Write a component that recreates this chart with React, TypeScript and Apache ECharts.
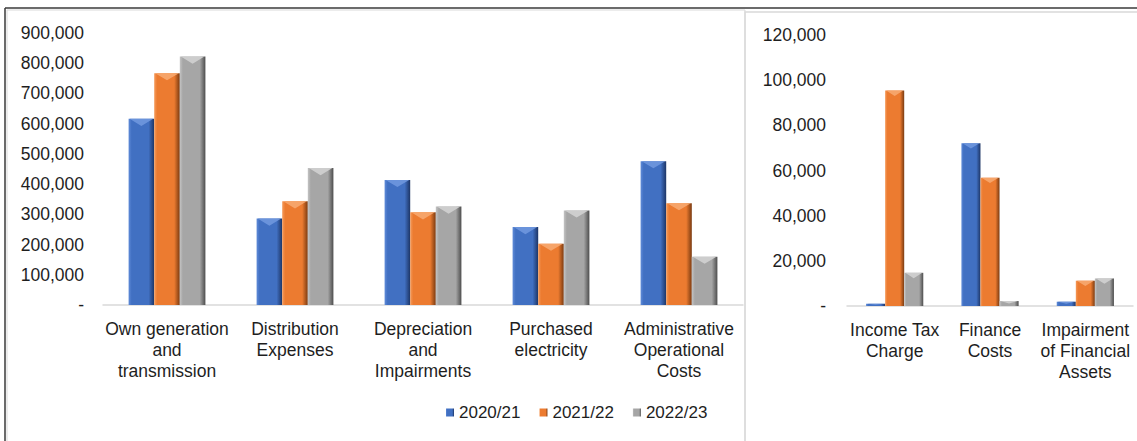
import React, { useEffect, useRef } from "react";
import * as echarts from "echarts";

const seriesNames = ["2020/21", "2021/22", "2022/23"];

const leftCategories = [
  "Own generation\nand\ntransmission",
  "Distribution\nExpenses",
  "Depreciation\nand\nImpairments",
  "Purchased\nelectricity",
  "Administrative\nOperational\nCosts",
];
const left2021 = [616000, 286000, 414000, 258000, 476000];
const left2122 = [767000, 343000, 307000, 203000, 337000];
const left2223 = [822000, 453000, 326000, 313000, 160000];

const rightCategories = ["Income Tax\nCharge", "Finance\nCosts", "Impairment\nof Financial\nAssets"];
const right2021 = [1000, 72100, 1900];
const right2122 = [95400, 56800, 11200];
const right2223 = [14700, 2200, 12200];

const palettes = [
  { light: "#5f8bd8", base: "#4170c2", dark: "#1d3566", hi: "#6f97de" },
  { light: "#f59a5a", base: "#ec7b30", dark: "#7a3a10", hi: "#f7a870" },
  { light: "#c4c4c4", base: "#a6a6a6", dark: "#4d4d4d", hi: "#d2d2d2" },
];

function grad(i: number) {
  const p = palettes[i];
  return new echarts.graphic.LinearGradient(0, 0, 1, 0, [
    { offset: 0, color: p.light },
    { offset: 0.12, color: p.base },
    { offset: 0.78, color: p.base },
    { offset: 1, color: p.dark },
  ]);
}

const fmt = (v: number) => (v === 0 ? "-" : v.toLocaleString("en-US"));
const FONT = "'Liberation Sans', Arial, sans-serif";
const FS = 17.5;

export default function App() {
  const ref = useRef<HTMLDivElement>(null);
  useEffect(() => {
    if (!ref.current) return;
    const chart = echarts.init(ref.current, null, { renderer: "svg" });
    const leftData = [left2021, left2122, left2223];
    const rightData = [right2021, right2122, right2223];
    const series: any[] = [];
    const addGroup = (gi: number, data: number[][]) => {
      seriesNames.forEach((name, i) => {
        series.push({
          type: "bar",
          name,
          xAxisIndex: gi,
          yAxisIndex: gi,
          data: data[i],
          barGap: "0%",
          barCategoryGap: "40%",
          itemStyle: { color: grad(i) },
        });
      });
      seriesNames.forEach((name, i) => {
        series.push({
          type: "custom",
          name: "bevel" + gi + "_" + i,
          xAxisIndex: gi,
          yAxisIndex: gi,
          silent: true,
          z: 5,
          data: data[i].map((v, k) => [k, v]),
          renderItem: (params: any, api: any) => {
            const k = api.value(0);
            const v = api.value(1);
            const top = api.coord([k, v]);
            const base = api.coord([k, 0]);
            const band = api.size([1, 0])[0];
            const bw = band * 0.2;
            const xl = top[0] - 1.5 * bw + i * bw;
            const h = base[1] - top[1];
            const d = Math.min(bw * 0.28, h * 0.5);
            return {
              type: "polygon",
              shape: {
                points: [
                  [xl + 1, top[1]],
                  [xl + bw - 1, top[1]],
                  [xl + bw / 2, top[1] + d],
                ],
              },
              style: { fill: palettes[i].hi, opacity: 0.9 },
            };
          },
        });
      });
    };
    addGroup(0, leftData);
    addGroup(1, rightData);

    const catAxis = (idx: number, data: string[]) => ({
      type: "category",
      gridIndex: idx,
      data,
      axisLine: { lineStyle: { color: "#d9d9d9", width: 1.5 } },
      axisTick: { show: false },
      axisLabel: {
        interval: 0,
        hideOverlap: false,
        margin: 13,
        fontSize: FS,
        lineHeight: 21,
        color: "#1e1e1e",
        fontFamily: FONT,
        align: "center",
      },
    });
    const valAxis = (idx: number, max: number, interval: number, margin: number) => ({
      type: "value",
      gridIndex: idx,
      min: 0,
      max,
      interval,
      axisLine: { show: false },
      axisTick: { show: false },
      splitLine: { show: false },
      axisLabel: {
        formatter: fmt,
        margin,
        fontSize: FS,
        color: "#1e1e1e",
        fontFamily: FONT,
      },
    });
    chart.setOption({
      animation: false,
      backgroundColor: "#ffffff",
      textStyle: { fontFamily: FONT },
      grid: [
        { left: 103, top: 33, width: 640, height: 272, containLabel: false },
        { left: 847, top: 35, width: 286, height: 271, containLabel: false },
      ],
      xAxis: [catAxis(0, leftCategories), catAxis(1, rightCategories)],
      yAxis: [valAxis(0, 900000, 100000, 19), valAxis(1, 120000, 20000, 21)],
      legend: {
        data: seriesNames,
        left: 446,
        top: 404,
        padding: 0,
        icon: "rect",
        itemWidth: 8,
        itemHeight: 8,
        itemGap: 19,
        textStyle: { fontSize: 17, color: "#1e1e1e", fontFamily: FONT },
      },
      graphic: [
        { type: "rect", shape: { x: 7, y: 10, width: 738, height: 440 }, style: { fill: "none", stroke: "#d9d9d9", lineWidth: 1 }, silent: true },
        { type: "rect", shape: { x: 745, y: 12, width: 400, height: 440 }, style: { fill: "none", stroke: "#d9d9d9", lineWidth: 1.5 }, silent: true },
        { type: "line", shape: { x1: 5, y1: 8, x2: 1137, y2: 8 }, style: { stroke: "#3a3a3a", lineWidth: 1.5 }, silent: true },
        { type: "line", shape: { x1: 5, y1: 8, x2: 5, y2: 441 }, style: { stroke: "#3a3a3a", lineWidth: 1.5 }, silent: true },
      ],
      series,
    });
    return () => chart.dispose();
  }, []);
  return (
    <div
      ref={ref}
      style={{ position: "fixed", left: 0, top: 0, width: 1137, height: 441, background: "#fff" }}
    />
  );
}
